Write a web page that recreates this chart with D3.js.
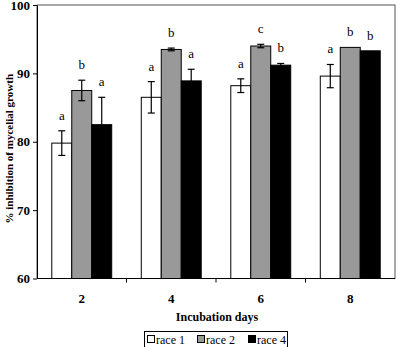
<!DOCTYPE html>
<html>
<head>
<meta charset="utf-8">
<script src="https://cdn.jsdelivr.net/npm/d3@7"></script>
<style>
  body { margin: 0; background: #fff; }
</style>
</head>
<body>
<div id="chart"></div>
<script>
// data
const days = ['2', '4', '6', '8'];
const races = ['race 1', 'race 2', 'race 4'];
const race1 = [79.8, 86.5, 88.2, 89.6];
const race2 = [87.5, 93.5, 94.0, 93.8];
const race4 = [82.5, 88.9, 91.2, 93.3];
const err1 = [1.8, 2.3, 1.0, 1.7];
const err2 = [1.5, 0.2, 0.25, 0];
const err4 = [4.0, 1.7, 0.25, 0];
const letters1 = ['a', 'a', 'a', 'a'];
const letters2 = ['b', 'b', 'c', 'b'];
const letters4 = ['a', 'a', 'b', 'b'];
const yTicks = [60, 70, 80, 90, 100];

const FONT = '"Liberation Serif", "Times New Roman", serif';
const fills = ['#ffffff', '#999999', '#000000'];
const means = [race1, race2, race4];
const errs = [err1, err2, err4];
const letters = [letters1, letters2, letters4];

const rows = [];
days.forEach((d, i) => {
  races.forEach((r, j) => {
    rows.push({ day: d, race: r, value: means[j][i], err: errs[j][i], letter: letters[j][i], fill: fills[j] });
  });
});

// dimensions
const WIDTH = 397;
const HEIGHT = 347;
const MARGIN_LEFT = 37;
const MARGIN_RIGHT = 2;
const MARGIN_TOP = 5;
const MARGIN_BOTTOM = 68;

const $svg = d3.select('#chart').append('svg')
  .attr('width', WIDTH)
  .attr('height', HEIGHT)
  .attr('font-family', FONT);

const x0 = d3.scaleBand()
  .domain(days)
  .range([MARGIN_LEFT, WIDTH - MARGIN_RIGHT]);

const x1 = d3.scaleBand()
  .domain(races)
  .range([0, x0.bandwidth()])
  .paddingOuter(0.74)
  .paddingInner(0);

const y = d3.scaleLinear()
  .domain([60, 100])
  .range([HEIGHT - MARGIN_BOTTOM - 0.5, MARGIN_TOP]);

// frame
$svg.append('rect')
  .attr('x', MARGIN_LEFT)
  .attr('y', y(100))
  .attr('width', WIDTH - MARGIN_RIGHT - MARGIN_LEFT)
  .attr('height', y(60) - y(100))
  .attr('fill', 'none')
  .attr('stroke', '#555')
  .attr('stroke-width', 1);

// bars
const $vis = $svg.append('g').attr('class', 'g-vis');

const $bar = $vis.selectAll('g.bar')
  .data(rows)
  .join('g')
  .attr('class', 'bar')
  .attr('transform', d => `translate(${x0(d.day) + x1(d.race)},0)`);

$bar.append('rect')
  .attr('x', 0)
  .attr('y', d => y(d.value))
  .attr('width', x1.bandwidth())
  .attr('height', d => y(60) - y(d.value))
  .attr('fill', d => d.fill)
  .attr('stroke', '#000')
  .attr('stroke-width', 1);

// error bars
const cap = 3.5;
$bar.filter(d => d.err > 0).each(function(d) {
  const g = d3.select(this);
  const cx = x1.bandwidth() / 2;
  g.append('line')
    .attr('x1', cx).attr('x2', cx)
    .attr('y1', y(d.value + d.err)).attr('y2', y(d.value - d.err))
    .attr('stroke', '#000').attr('stroke-width', 1.2);
  [d.value + d.err, d.value - d.err].forEach(v => {
    g.append('line')
      .attr('x1', cx - cap).attr('x2', cx + cap)
      .attr('y1', y(v)).attr('y2', y(v))
      .attr('stroke', '#000').attr('stroke-width', 1.2);
  });
});

// letters
$bar.append('text')
  .attr('x', x1.bandwidth() / 2)
  .attr('y', d => y(d.value + d.err) - 11)
  .attr('text-anchor', 'middle')
  .attr('font-size', 13)
  .attr('fill', '#000')
  .text(d => d.letter);

// y axis
const $yAxis = $svg.append('g')
  .attr('transform', `translate(${MARGIN_LEFT},0)`)
  .call(d3.axisLeft(y).tickValues(yTicks).tickSize(4).tickSizeOuter(0).tickPadding(3))
  .attr('font-family', FONT)
  .attr('font-size', 13)
  .attr('font-weight', 'bold');
$yAxis.selectAll('line, path').attr('stroke', '#000');
$yAxis.selectAll('text').attr('fill', '#000');

// x axis: ticks at category boundaries
const $xAxis = $svg.append('g')
  .attr('transform', `translate(0,${y(60)})`);
$xAxis.append('line')
  .attr('x1', MARGIN_LEFT).attr('x2', WIDTH - MARGIN_RIGHT)
  .attr('stroke', '#000');
$xAxis.selectAll('line.tk')
  .data(days.slice(1))
  .join('line')
  .attr('class', 'tk')
  .attr('x1', d => x0(d)).attr('x2', d => x0(d))
  .attr('y1', 0).attr('y2', 4)
  .attr('stroke', '#000');
$xAxis.selectAll('text')
  .data(days)
  .join('text')
  .attr('x', d => x0(d) + x0.bandwidth() / 2)
  .attr('y', 24)
  .attr('text-anchor', 'middle')
  .attr('font-size', 13)
  .attr('font-weight', 'bold')
  .attr('fill', '#000')
  .text(d => d);

// axis titles
$svg.append('text')
  .attr('transform', `translate(13,${(y(60) + y(100)) / 2 + 7}) rotate(-90)`)
  .attr('text-anchor', 'middle')
  .attr('font-size', 11)
  .attr('font-weight', 'bold')
  .attr('fill', '#000')
  .text('% inhibition of mycelial growth');

$svg.append('text')
  .attr('x', 217)
  .attr('y', 321)
  .attr('text-anchor', 'middle')
  .attr('font-size', 12)
  .attr('font-weight', 'bold')
  .attr('fill', '#000')
  .text('Incubation days');

// legend
const $legend = $svg.append('g').attr('transform', 'translate(144,331)');
$legend.append('rect')
  .attr('x', 0.5).attr('y', 0.5)
  .attr('width', 143).attr('height', 16)
  .attr('fill', '#fff')
  .attr('stroke', '#000');
const legendX = [3, 53, 104];
races.forEach((r, i) => {
  const g = $legend.append('g').attr('transform', `translate(${legendX[i]},0)`);
  g.append('rect')
    .attr('x', 0.5).attr('y', 4.5)
    .attr('width', 7).attr('height', 7)
    .attr('fill', fills[i])
    .attr('stroke', '#000');
  g.append('text')
    .attr('x', 9).attr('y', 12.5)
    .attr('font-size', 12)
    .attr('fill', '#000')
    .text(r);
});
</script>
</body>
</html>
